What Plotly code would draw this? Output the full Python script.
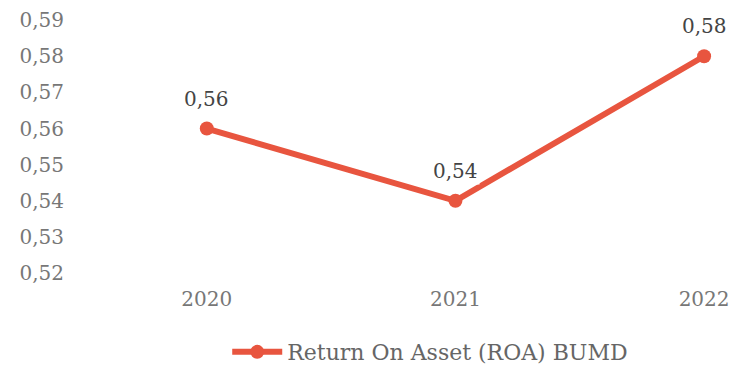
import plotly.graph_objects as go

years = [2020, 2021, 2022]
roa = [0.56, 0.54, 0.58]
y_ticks = [0.52, 0.53, 0.54, 0.55, 0.56, 0.57, 0.58, 0.59]
series_name = "Return On Asset (ROA) BUMD"

red = "#e8553f"
font_family = "DejaVu Serif"

fig = go.Figure()
fig.add_trace(go.Scatter(
    x=list(range(len(years))), y=roa, name=series_name,
    mode="lines+markers",
    line=dict(color=red, width=6),
    marker=dict(color=red, size=14),
))

for i, v in enumerate(roa):
    fig.add_annotation(
        x=i, y=v, text=f"{v:.2f}".replace(".", ","), showarrow=False,
        yshift=30, bgcolor="white",
        font=dict(family=font_family, size=20, color="#444444"),
    )

fig.update_layout(
    width=733, height=369,
    margin=dict(l=75, r=10, t=10, b=84),
    paper_bgcolor="white", plot_bgcolor="white",
    showlegend=True,
    legend=dict(orientation="h", x=0.31, xanchor="left", itemwidth=50,
                xref="container", yref="container", y=0.046, yanchor="middle",
                font=dict(family=font_family, size=22, color="#666666")),
    font=dict(family=font_family, size=20, color="#777777"),
)
fig.update_xaxes(
    range=[-0.53, 2.076], tickvals=list(range(len(years))),
    ticktext=[str(y) for y in years], showgrid=False, zeroline=False,
    showline=False, ticks="", automargin=False,
)
fig.update_yaxes(
    range=[0.5167, 0.5928], tickvals=y_ticks,
    ticktext=[f"{t:.2f}".replace(".", ",") for t in y_ticks],
    showgrid=False, zeroline=False, showline=False, ticks="", automargin=False,
    ticklabelstandoff=10,
)

# drop the default 8px body margin so the figure fills the window
fig.write_html("out.html", config={"displayModeBar": False},
               post_script="document.body.style.margin='0';")
